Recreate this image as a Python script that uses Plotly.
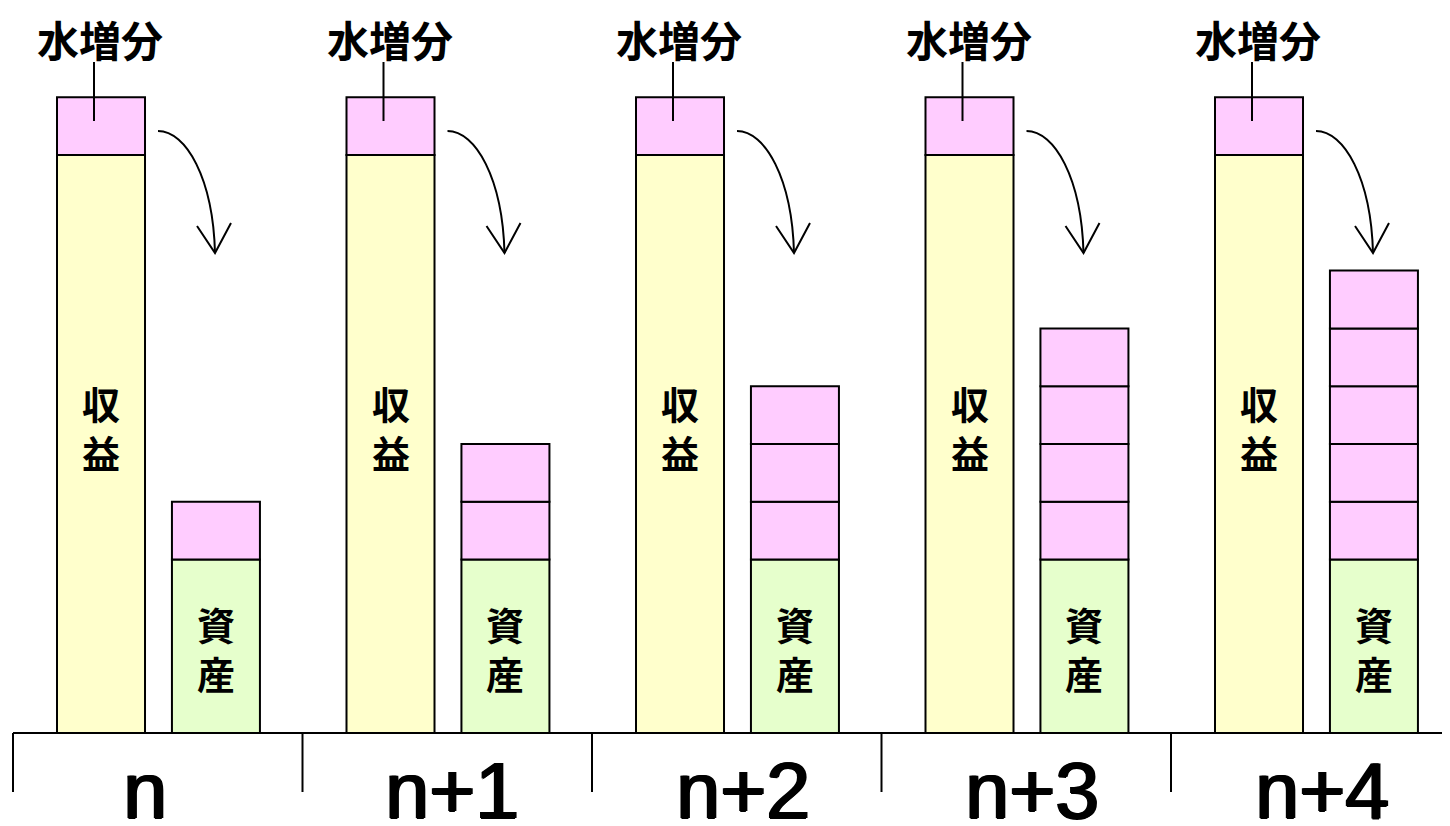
import plotly.graph_objects as go

# ---- data ----
groups = ["n", "n+1", "n+2", "n+3", "n+4"]
revenue = [10, 10, 10, 10, 10]          # 収益 (yellow)
water_inc = [1, 1, 1, 1, 1]             # 水増分 (pink top)
asset_base = [3, 3, 3, 3, 3]            # 資産 (green)
asset_added = [1, 2, 3, 4, 5]           # accumulated pink blocks on asset

PINK = "#FFCCFF"
YELLOW = "#FFFFCC"
GREEN = "#E6FFCC"

# layout geometry (target pixels -> data)
W, H = 1450, 826
PAGE_OFF = 8     # default page margin of the html body
GPX = 289.5      # group width in px
X0PX = 13        # first separator px
UNIT = 57.8      # px per value unit
BASEPX = 733     # baseline px

def px2x(px):
    return (px - X0PX) / GPX

def py2y(py):
    return (BASEPX - py) / UNIT

BW = 0.304
TALL_OFF = 0.304
ASSET_OFF = 0.701

fig = go.Figure()
line = dict(color="black", width=2)
xs = list(range(len(groups)))

fig.add_trace(go.Bar(x=[i + TALL_OFF for i in xs], y=revenue, base=[0]*5, width=BW,
                     marker=dict(color=YELLOW, line=line), hoverinfo="skip"))
fig.add_trace(go.Bar(x=[i + TALL_OFF for i in xs], y=water_inc, base=revenue, width=BW,
                     marker=dict(color=PINK, line=line), hoverinfo="skip"))
fig.add_trace(go.Bar(x=[i + ASSET_OFF for i in xs], y=asset_base, base=[0]*5, width=BW,
                     marker=dict(color=GREEN, line=line), hoverinfo="skip"))
for k in range(max(asset_added)):
    sel = [i for i in xs if asset_added[i] > k]
    fig.add_trace(go.Bar(x=[i + ASSET_OFF for i in sel], y=[1]*len(sel),
                         base=[asset_base[i] + k for i in sel], width=BW,
                         marker=dict(color=PINK, line=line), hoverinfo="skip"))

shapes = []
annotations = []
label_off = [0.456, 0.516, 0.52, 0.52, 0.52]
cjk = "Noto Sans CJK JP"
for i in xs:
    # separator tick
    shapes.append(dict(type="line", x0=i, x1=i, y0=0, y1=py2y(792),
                       line=dict(color="black", width=2)))
    # 水増分 label & leader line
    annotations.append(dict(x=i + px2x(100), y=py2y(38), text="<b>水増分</b>", showarrow=False,
                            font=dict(family=cjk, size=42, color="black"),
                            xanchor="center", yanchor="middle"))
    lx = i + px2x(94)
    shapes.append(dict(type="line", x0=lx, x1=lx, y0=py2y(62), y1=py2y(121),
                       line=dict(color="black", width=2)))
    # 収益
    annotations.append(dict(x=i + TALL_OFF, y=py2y(427), text="<b>収<br>益</b>", showarrow=False,
                            font=dict(family=cjk, size=38, color="black"),
                            xanchor="center", yanchor="middle"))
    # 資産
    annotations.append(dict(x=i + ASSET_OFF, y=py2y(648), text="<b>資<br>産</b>", showarrow=False,
                            font=dict(family=cjk, size=38, color="black"),
                            xanchor="center", yanchor="middle"))
    # group label
    annotations.append(dict(x=i + label_off[i], y=py2y(790), text=groups[i],
                            showarrow=False,
                            font=dict(family="Liberation Sans", size=79, color="black",
                                      shadow="1.5px 0px 0px black, -1px 0px 0px black, 0px 1px 0px black"),
                            xanchor="center", yanchor="middle"))
    # curved arrow
    g = i * GPX
    def P(px, py):
        return f"{px2x(px + g):.4f},{py2y(py):.4f}"
    path = f"M {P(158,131)} C {P(186,131)} {P(213,178)} {P(215,253)}"
    shapes.append(dict(type="path", path=path, line=dict(color="black", width=2)))
    head = f"M {P(197,226)} L {P(215,253)} L {P(231,223)}"
    shapes.append(dict(type="path", path=head, line=dict(color="black", width=2)))

# baseline
shapes.append(dict(type="line", x0=0, x1=px2x(W + 20), y0=0, y1=0,
                   line=dict(color="black", width=2)))

fig.update_layout(
    width=W, height=H,
    margin=dict(l=0, r=0, t=0, b=0),
    paper_bgcolor="white", plot_bgcolor="white",
    barmode="overlay", showlegend=False,
    xaxis=dict(range=[px2x(PAGE_OFF), px2x(PAGE_OFF + W)], visible=False, fixedrange=True),
    yaxis=dict(range=[py2y(PAGE_OFF + H), py2y(PAGE_OFF)], visible=False, fixedrange=True),
    shapes=shapes, annotations=annotations,
)

fig.write_html("out.html")
